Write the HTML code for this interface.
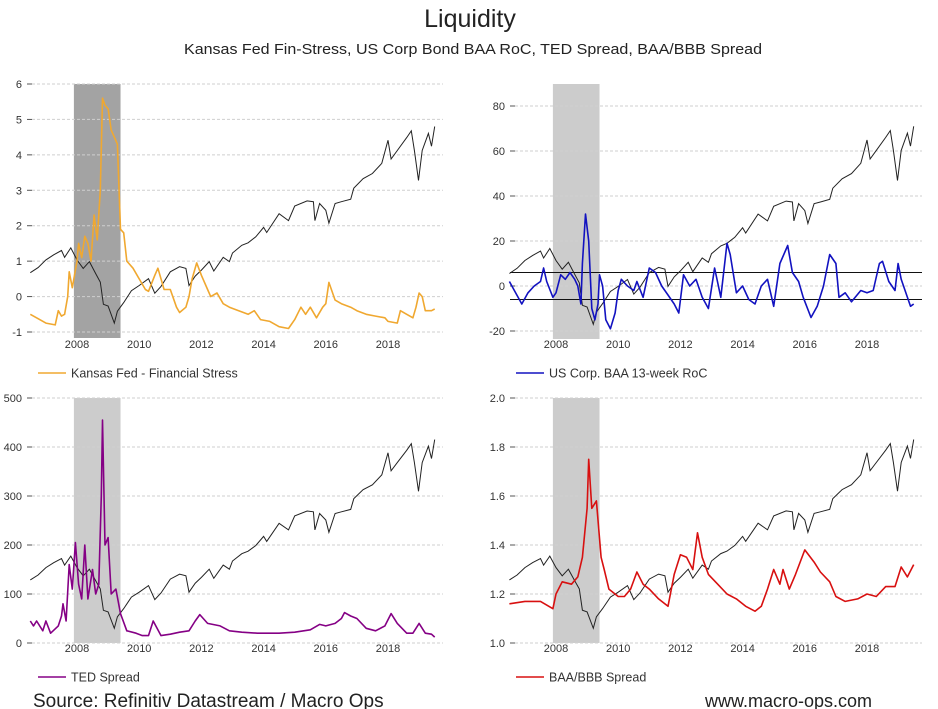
<!DOCTYPE html>
<html><head><meta charset="utf-8"><style>
html,body{margin:0;padding:0;background:#fff;}
svg{display:block;font-family:"Liberation Sans",Arial,sans-serif;}
</style></head><body>
<svg id="chart" width="938" height="709" viewBox="0 0 938 709" xmlns="http://www.w3.org/2000/svg">
<text x="470" y="27" text-anchor="middle" font-size="25" fill="#222">Liquidity</text>
<text x="473" y="54" text-anchor="middle" font-size="15" fill="#222" textLength="578" lengthAdjust="spacingAndGlyphs">Kansas Fed Fin-Stress, US Corp Bond BAA RoC, TED Spread, BAA/BBB Spread</text>
<text x="33" y="707" font-size="19" fill="#222">Source: Refinitiv Datastream / Macro Ops</text>
<text x="705" y="707" font-size="18" fill="#222">www.macro-ops.com</text>
</svg>
<script>
// shared x data (years)
const spxYears=[2006.5,2006.75,2007.0,2007.25,2007.5,2007.6,2007.8,2008.0,2008.2,2008.4,2008.6,2008.75,2008.85,2009.0,2009.2,2009.3,2009.5,2009.75,2010.0,2010.3,2010.5,2010.7,2011.0,2011.3,2011.5,2011.6,2011.8,2012.0,2012.25,2012.4,2012.7,2012.9,2013.0,2013.3,2013.5,2013.75,2014.0,2014.1,2014.5,2014.8,2015.0,2015.4,2015.6,2015.65,2015.8,2016.0,2016.1,2016.3,2016.5,2016.8,2016.9,2017.2,2017.5,2017.8,2018.0,2018.1,2018.3,2018.6,2018.75,2018.85,2018.98,2019.1,2019.3,2019.4,2019.5];
const spxValues=[1270,1330,1420,1480,1530,1450,1560,1420,1320,1400,1260,1160,900,880,680,820,920,1060,1120,1200,1030,1110,1280,1340,1320,1120,1230,1300,1400,1290,1450,1400,1500,1590,1620,1690,1800,1740,1960,1880,2050,2110,2100,1880,2080,2000,1850,2080,2100,2130,2260,2370,2430,2550,2820,2600,2700,2850,2930,2700,2350,2700,2900,2750,2980];

const kcYears=[2006.5,2006.8,2007.0,2007.3,2007.4,2007.5,2007.6,2007.7,2007.75,2007.85,2008.0,2008.05,2008.15,2008.25,2008.35,2008.45,2008.55,2008.65,2008.75,2008.82,2008.9,2009.0,2009.1,2009.2,2009.3,2009.4,2009.5,2009.6,2009.8,2010.0,2010.2,2010.3,2010.5,2010.6,2010.8,2011.0,2011.2,2011.3,2011.5,2011.6,2011.7,2011.85,2012.0,2012.2,2012.3,2012.5,2012.7,2012.9,2013.2,2013.5,2013.7,2013.9,2014.2,2014.5,2014.8,2015.0,2015.2,2015.35,2015.5,2015.7,2015.9,2016.0,2016.1,2016.3,2016.5,2016.8,2017.0,2017.3,2017.6,2017.9,2018.0,2018.3,2018.4,2018.6,2018.8,2018.9,2019.0,2019.1,2019.2,2019.4,2019.5];
const kcValues=[-0.5,-0.65,-0.75,-0.8,-0.4,-0.55,-0.5,0.0,0.7,0.25,1.0,1.5,1.1,1.7,1.5,1.0,2.3,1.6,3.0,5.6,5.4,5.3,4.7,4.5,4.3,1.9,1.8,1.0,0.8,0.5,0.2,0.15,0.6,0.8,0.2,0.2,-0.3,-0.45,-0.3,0.0,0.5,0.95,0.6,0.2,0.0,0.1,-0.2,-0.3,-0.4,-0.5,-0.4,-0.65,-0.7,-0.85,-0.9,-0.65,-0.3,-0.5,-0.3,-0.6,-0.3,-0.2,0.4,-0.1,-0.2,-0.3,-0.4,-0.5,-0.55,-0.6,-0.7,-0.75,-0.4,-0.5,-0.6,-0.3,0.1,0.0,-0.4,-0.4,-0.35];

const baaYears=[2006.5,2006.7,2006.9,2007.1,2007.3,2007.5,2007.6,2007.7,2007.9,2008.0,2008.15,2008.3,2008.45,2008.6,2008.7,2008.8,2008.85,2008.95,2009.05,2009.15,2009.25,2009.35,2009.4,2009.5,2009.6,2009.75,2009.9,2010.0,2010.1,2010.3,2010.5,2010.6,2010.8,2011.0,2011.2,2011.4,2011.6,2011.8,2011.95,2012.1,2012.3,2012.5,2012.7,2012.9,2013.1,2013.3,2013.5,2013.6,2013.8,2014.0,2014.2,2014.4,2014.6,2014.8,2015.0,2015.2,2015.45,2015.6,2015.8,2015.95,2016.2,2016.4,2016.6,2016.8,2017.0,2017.1,2017.3,2017.5,2017.8,2018.0,2018.2,2018.4,2018.5,2018.7,2018.9,2019.0,2019.1,2019.3,2019.4,2019.5];
const baaValues=[2,-3,-8,-3,0,2,8,2,-5,-3,5,3,6,3,0,-8,10,32,20,-10,-15,-8,5,0,-15,-19,-12,-2,3,0,-2,2,-5,8,6,0,-4,-8,-12,5,0,3,-5,-10,8,-5,19,14,-3,0,-6,-8,0,3,-9,10,18,6,2,-5,-14,-9,0,14,10,-5,-3,-7,-2,-3,-2,10,11,2,-2,10,3,-5,-9,-8];

const tedYears=[2006.5,2006.6,2006.7,2006.9,2007.0,2007.15,2007.4,2007.5,2007.55,2007.65,2007.75,2007.85,2007.95,2008.05,2008.15,2008.25,2008.35,2008.5,2008.6,2008.7,2008.78,2008.82,2008.9,2009.0,2009.1,2009.25,2009.4,2009.6,2009.9,2010.1,2010.3,2010.45,2010.7,2011.0,2011.3,2011.6,2011.8,2011.95,2012.2,2012.6,2012.9,2013.3,2013.8,2014.5,2015.0,2015.5,2015.8,2016.0,2016.3,2016.5,2016.6,2016.8,2017.0,2017.3,2017.6,2017.9,2018.1,2018.3,2018.6,2018.8,2019.0,2019.2,2019.4,2019.5];
const tedValues=[45,35,45,25,45,20,35,55,80,45,160,110,205,120,90,200,90,150,100,120,300,455,200,215,100,110,60,25,20,15,15,45,15,18,22,25,45,58,40,35,25,22,20,20,22,27,38,35,40,50,62,55,50,30,25,35,60,40,20,20,40,20,18,12];

const bbbYears=[2006.5,2007.0,2007.5,2007.9,2008.0,2008.2,2008.5,2008.7,2008.85,2009.0,2009.05,2009.15,2009.3,2009.45,2009.55,2009.7,2010.0,2010.2,2010.4,2010.6,2010.8,2011.0,2011.3,2011.6,2011.8,2012.0,2012.2,2012.4,2012.55,2012.7,2012.9,2013.2,2013.5,2013.8,2014.1,2014.4,2014.6,2014.8,2015.0,2015.2,2015.3,2015.5,2015.7,2016.0,2016.3,2016.5,2016.8,2017.0,2017.3,2017.7,2018.0,2018.3,2018.6,2018.9,2019.1,2019.3,2019.5];
const bbbValues=[1.16,1.17,1.17,1.14,1.20,1.25,1.24,1.27,1.35,1.55,1.75,1.55,1.58,1.35,1.30,1.22,1.19,1.19,1.22,1.29,1.24,1.22,1.18,1.15,1.28,1.36,1.35,1.30,1.45,1.35,1.28,1.24,1.20,1.18,1.15,1.13,1.15,1.22,1.30,1.24,1.30,1.22,1.28,1.38,1.33,1.29,1.25,1.19,1.17,1.18,1.20,1.19,1.23,1.23,1.31,1.27,1.32];

const xTickYears=[2008,2010,2012,2014,2016,2018];
const recessionStart=2007.9, recessionEnd=2009.4;

const NS="http://www.w3.org/2000/svg";
const svg=document.getElementById('chart');
function mk(tag,attrs,parent){const e=document.createElementNS(NS,tag);for(const k in attrs)e.setAttribute(k,attrs[k]);(parent||svg).appendChild(e);return e;}

const panels=[
 {id:'kansas-fed',x2008:77,left:32,right:443,yTop:84,yBot:332,vTop:6,vBot:-1,ticks:[6,5,4,3,2,1,0,-1],fmt:v=>String(v),shadeTop:84,shadeBot:338,shade:'#a3a3a3',
  ys:kcYears,vs:kcValues,color:'#f0a830',label:'Kansas Fed - Financial Stress',labY:348,legY:373,lblX:22,spxA:-0.75,spxB:0.002413},
 {id:'baa-roc',x2008:556,left:510,right:922,yTop:106,yBot:331,vTop:80,vBot:-20,ticks:[80,60,40,20,0,-20],fmt:v=>String(v),shadeTop:84,shadeBot:339,shade:'#cccccc',
  ys:baaYears,vs:baaValues,color:'#1212c0',label:'US Corp. BAA 13-week RoC',labY:348,legY:373,lblX:505,spxA:-17,spxB:0.03826,bands:[6,-6]},
 {id:'ted-spread',x2008:77,left:32,right:443,yTop:398,yBot:643,vTop:500,vBot:0,ticks:[500,400,300,200,100,0],fmt:v=>String(v),shadeTop:398,shadeBot:643,shade:'#cccccc',
  ys:tedYears,vs:tedValues,color:'#850085',label:'TED Spread',labY:652,legY:677,lblX:22,spxA:30,spxB:0.1674},
 {id:'baa-bbb-spread',x2008:556,left:510,right:922,yTop:398,yBot:643,vTop:2.0,vBot:1.0,ticks:[2.0,1.8,1.6,1.4,1.2,1.0],fmt:v=>v.toFixed(1),shadeTop:398,shadeBot:643,shade:'#cccccc',
  ys:bbbYears,vs:bbbValues,color:'#d81010',label:'BAA/BBB Spread',labY:652,legY:677,lblX:505,spxA:1.06,spxB:0.000335}
];

panels.forEach(p=>{
  const g=mk('g',{});
  
  
  const xs=y=>p.x2008+(y-2008)*31.1;
  const yv=v=>p.yTop+(p.vTop-v)/(p.vTop-p.vBot)*(p.yBot-p.yTop);
  const sh=mk('rect',{x:xs(recessionStart),y:p.shadeTop,width:xs(recessionEnd)-xs(recessionStart),height:p.shadeBot-p.shadeTop,fill:p.shade},g);
  
  
  p.ticks.forEach(t=>{
    const gl=mk('line',{x1:p.left,x2:p.right,y1:yv(t),y2:yv(t),stroke:'#cfcfcf','stroke-width':1,'stroke-dasharray':'3,2'},g);
    
    
    mk('line',{x1:p.lblX+5,x2:p.lblX+10,y1:yv(t),y2:yv(t),stroke:'#555'},g);
    const tl=mk('text',{x:p.lblX,y:yv(t)+4,'text-anchor':'end','font-size':11,fill:'#333'},g);
    tl.textContent=p.fmt(t);
    
    
  });
  xTickYears.forEach(yr=>{
    const xl=mk('text',{x:xs(yr),y:p.labY,'text-anchor':'middle','font-size':11,fill:'#333'},g);
    xl.textContent=String(yr);
    
    
  });
  if(p.bands){p.bands.forEach(b=>{
    const bl=mk('line',{x1:p.left,x2:p.right,y1:yv(b),y2:yv(b),stroke:'#111','stroke-width':1},g);
    
    
  });}
  const sp=mk('path',{d:spxYears.map((y,i)=>(i?'L':'M')+xs(y).toFixed(1)+','+yv(p.spxA+(spxValues[i]-680)*p.spxB).toFixed(1)).join(''),fill:'none',stroke:'#222','stroke-width':1},g);
  
  
  const sl=mk('path',{d:p.ys.map((y,i)=>(i?'L':'M')+xs(y).toFixed(1)+','+yv(p.vs[i]).toFixed(1)).join(''),fill:'none',stroke:p.color,'stroke-width':1.6,'stroke-linejoin':'round'},g);
  
  
  const lx=p.left+6;
  const lg=mk('g',{},g);
  
  
  mk('line',{x1:lx,x2:lx+28,y1:p.legY,y2:p.legY,stroke:p.color,'stroke-width':1.6},lg);
  const lt=mk('text',{x:lx+33,y:p.legY+4.5,'font-size':12.5,fill:'#333'},lg);
  lt.textContent=p.label;
});
</script>
</body></html>
